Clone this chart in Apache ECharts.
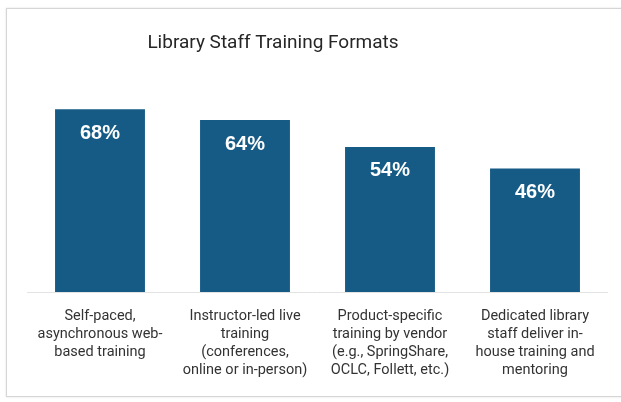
<!DOCTYPE html>
<html><head><meta charset="utf-8">
<script src="https://cdn.jsdelivr.net/npm/echarts@6/dist/echarts.min.js"></script>
<style>
html,body{margin:0;padding:0;background:#fff;}
#frame{position:absolute;left:6px;top:8px;width:640px;height:387px;border:1px solid #d6d6d6;box-shadow:0 0 2px #e0e0e0;}
#c{position:absolute;left:0;top:0;width:621px;height:402px;}
</style></head>
<body>
<div id="frame"></div>
<div id="c"></div>
<script>
const titleText = "Library Staff Training Formats";
const categories = [
  "Self-paced,\nasynchronous web-\nbased training",
  "Instructor-led live\ntraining\n(conferences,\nonline or in-person)",
  "Product-specific\ntraining by vendor\n(e.g., SpringShare,\nOCLC, Follett, etc.)",
  "Dedicated library\nstaff deliver in-\nhouse training and\nmentoring"
];
const values = [68, 64, 54, 46];

const chart = echarts.init(document.getElementById('c'), null, {renderer:'canvas'});
chart.setOption({
  animation: false,
  title: {
    text: titleText, left: 268, top: 29, textAlign: 'center',
    textStyle: {fontFamily: 'Roboto, sans-serif', fontWeight: 'normal', fontSize: 19, color: '#262626'}
  },
  grid: {left: 27.5, right: 13.5, top: 77, bottom: 110, containLabel: false},
  xAxis: {
    type: 'category', data: categories,
    axisLine: {show: true, lineStyle: {color: '#e3e3e3', width: 1}},
    axisTick: {show: false},
    axisLabel: {interval: 0, margin: 15, color: '#333333', fontSize: 14.5, lineHeight: 18.2,
      fontFamily: 'Roboto, sans-serif', align: 'center', verticalAlign: 'top'}
  },
  yAxis: {type: 'value', min: 0, max: 80, show: false, splitLine: {show: false}},
  series: [{
    type: 'bar', data: values, barWidth: '62%',
    itemStyle: {color: '#165b85'},
    label: {show: true, position: 'insideTop', distance: 14, formatter: '{c}%',
      color: '#ffffff', fontWeight: 'bold', fontSize: 20, fontFamily: 'Liberation Sans, Arial, sans-serif'}
  }]
});
</script>
</body></html>
